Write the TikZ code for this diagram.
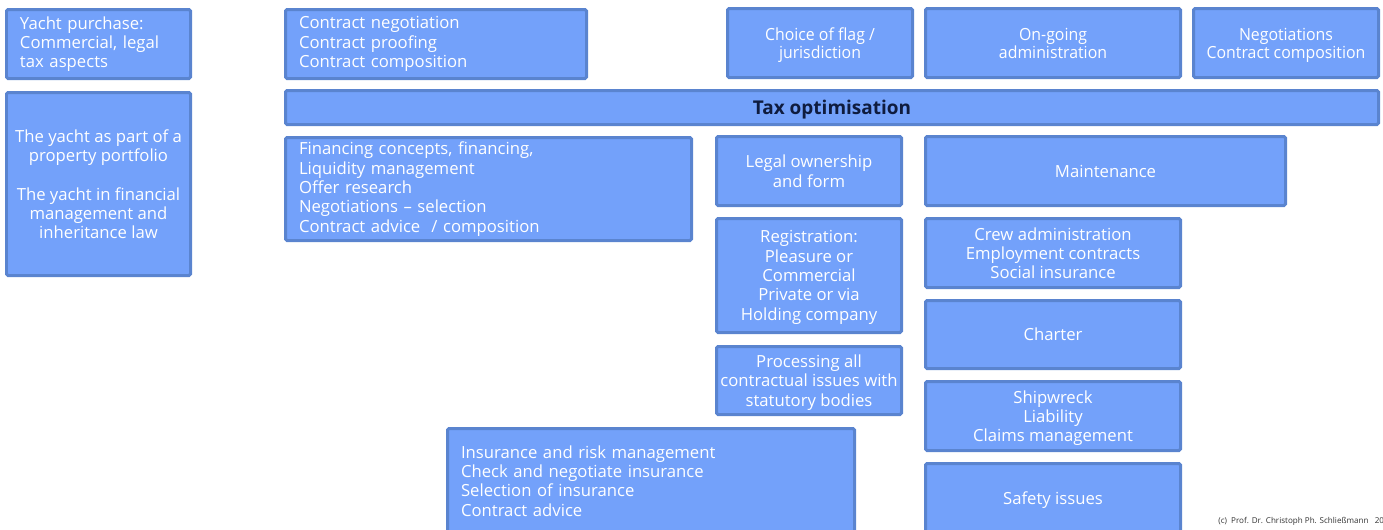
\documentclass[tikz,border=0pt]{standalone}
\usepackage{fontspec}
\usepackage{tikz}
\newfontfamily\boxfont{Open Sans}
\newfontfamily\boxcond[FakeStretch=0.95]{Open Sans}
\definecolor{boxfill}{HTML}{73A1FA}
\definecolor{boxline}{HTML}{5A84CF}
\definecolor{taxtext}{HTML}{0F1C3F}

\begin{document}
\begin{tikzpicture}[x=0.02cm,y=-0.02cm,
plain/.style={draw=boxline,fill=boxfill,line width=0.06cm,rounded corners=0.03cm,
  text=white,inner sep=0pt,font=\boxfont\fontsize{9.5}{11}\selectfont},
box/.style={plain,align=center,text depth=0pt},
cond/.style={font=\boxcond\fontsize{9.5}{10.2}\selectfont},
lbox/.style={plain,align=left,text width=#1*0.02cm-0.6cm},
wh/.style 2 args={minimum width=#1*0.02cm-0.06cm,minimum height=#2*0.02cm-0.06cm}]
\useasboundingbox (0,0) rectangle (1383,529);
\clip (0,0) rectangle (1383,529);
\node [lbox=187,wh={187}{72}] (purchase) at (98.5,44) {Yacht purchase:\\Commercial, legal\\tax aspects};
\node [box,wh={187}{186}] (portfolio) at (98.5,184) {The yacht as part of a\\property portfolio\\[11pt]The yacht in financial\\management and\\inheritance law};
\node [lbox=304,wh={304}{72}] (contract) at (436,44) {Contract negotiation\\Contract proofing\\Contract composition};
\node [box,cond,wh={188}{72}] (flag) at (820,43) {Choice of flag /\\jurisdiction};
\node [box,cond,wh={258}{72}] (admin) at (1053,43) {On-going\\administration};
\node [box,cond,wh={188}{72}] (negot) at (1286,43) {Negotiations\\Contract composition};
\node [box,wh={1096}{37},text=taxtext,font=\boxfont\fontsize{10.8}{12}\selectfont\bfseries] (tax) at (832,107.5) {Tax optimisation};
\node [lbox=409,wh={409}{106}] (finance) at (488.5,189) {Financing concepts, financing,\\Liquidity management\\Offer research\\Negotiations – selection\\Contract advice~~/ composition};
\node [box,wh={188}{72}] (owner) at (809,171) {Legal ownership\\and form};
\node [box,wh={363}{72}] (maint) at (1105.5,171) {Maintenance};
\node [box,wh={188}{117}] (regist) at (809,275.5) {Registration:\\Pleasure or\\Commercial\\Private or via\\Holding company};
\node [box,wh={258}{72}] (crew) at (1053,253) {Crew administration\\Employment contracts\\Social insurance};
\node [box,wh={258}{71}] (charter) at (1053,334.5) {Charter};
\node [box,wh={188}{71}] (process) at (809,380.5) {Processing all\\contractual issues with\\statutory bodies};
\node [box,wh={258}{72}] (wreck) at (1053,416) {Shipwreck\\Liability\\Claims management};
\node [lbox=410,wh={410}{108}] (insur) at (651,481) {Insurance and risk management\\Check and negotiate insurance\\Selection of insurance\\Contract advice};
\node [box,wh={258}{72}] (safety) at (1053,498) {Safety issues};
\node [anchor=west,inner sep=0pt,text=black!80,font=\boxfont\fontsize{4.6}{5}\selectfont] (copy) at (1218,521) {(c)~~Prof. Dr. Christoph Ph. Schließmann~~~20};
\end{tikzpicture}
\end{document}
